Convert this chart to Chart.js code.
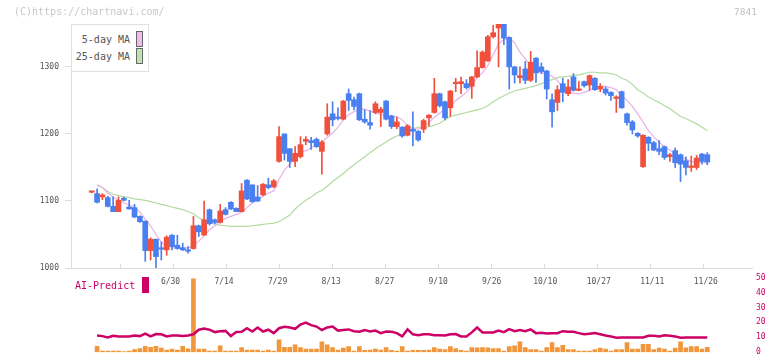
<!DOCTYPE html>
<html><head><meta charset="utf-8">
<script src="https://cdn.jsdelivr.net/npm/chart.js@4/dist/chart.umd.min.js"></script>
<style>
html,body{margin:0;padding:0;background:#fff;}
#wrap{position:relative;width:772px;height:361px;overflow:hidden;font-family:"DejaVu Sans Mono",monospace;}
canvas{position:absolute;left:0;}
#cA{top:0;}
#cB{top:268px;}
.t{position:absolute;white-space:nowrap;line-height:12px;}
</style>
</head><body>
<div id="wrap">
<canvas id="cA" width="772" height="300"></canvas>
<canvas id="cB" width="772" height="93"></canvas>
<div class="t" style="left:14px;top:6px;font-size:10px;color:#c8c8c8;">(C)https://chartnavi.com/</div>
<div class="t" style="right:15px;top:6px;font-size:9.5px;color:#c0c0c0;">7841</div>
<div style="position:absolute;left:71px;top:24px;width:78px;height:48px;box-sizing:border-box;border:1px solid #e0e0e0;background:#fff;"></div>
<div class="t" style="right:642px;top:34px;font-size:10px;color:#555;">5-day MA</div>
<div style="position:absolute;left:136px;top:31px;width:7px;height:16px;box-sizing:border-box;border:1px solid #666;background:#efbbef;"></div>
<div class="t" style="right:642px;top:51px;font-size:10px;color:#555;">25-day MA</div>
<div style="position:absolute;left:136px;top:48px;width:7px;height:16px;box-sizing:border-box;border:1px solid #666;background:#bfe2b2;"></div>
<div class="t" style="left:75px;top:280px;font-size:10px;color:#cc0066;">AI-Predict</div>
<div style="position:absolute;left:142px;top:277px;width:7px;height:16px;background:#cc0066;"></div>
</div>
<script>
const dates = ['6/9','6/10','6/11','6/12','6/13','6/16','6/17','6/18','6/19','6/20',
'6/23','6/24','6/25','6/26','6/27','6/30','7/1','7/2','7/3','7/4',
'7/7','7/8','7/9','7/10','7/11','7/14','7/15','7/16','7/17','7/18',
'7/22','7/23','7/24','7/25','7/28','7/29','7/30','7/31','8/1','8/4',
'8/5','8/6','8/7','8/8','8/12','8/13','8/14','8/15','8/18','8/19',
'8/20','8/21','8/22','8/25','8/26','8/27','8/28','8/29','9/1','9/2',
'9/3','9/4','9/5','9/8','9/9','9/10','9/11','9/12','9/16','9/17',
'9/18','9/19','9/22','9/24','9/25','9/26','9/29','9/30','10/1','10/2',
'10/3','10/6','10/7','10/8','10/9','10/10','10/14','10/15','10/16','10/17',
'10/20','10/21','10/22','10/23','10/24','10/27','10/28','10/29','10/30','10/31',
'11/4','11/5','11/6','11/7','11/10','11/11','11/12','11/13','11/14','11/17',
'11/18','11/19','11/20','11/21','11/25','11/26'];
const labelDates = ['6/30','7/14','7/29','8/13','8/27','9/10','9/26','10/10','10/27','11/11','11/26'];
const priceTicks = [1000,1100,1200,1300];
const predictTicks = [0,10,20,30,40,50];

const open = [1113,1111,1106,1105,1092,1084,1104,1091,1090,1077,
1070,1026,1043,1030,1027,1049,1034,1030,1026,1029,
1063,1049,1087,1072,1068,1087,1098,1089,1084,1131,
1124,1106,1109,1124,1121,1159,1200,1178,1159,1166,
1189,1190,1192,1174,1200,1230,1225,1222,1260,1251,
1260,1222,1217,1232,1232,1249,1227,1211,1210,1198,
1207,1204,1207,1224,1232,1260,1248,1239,1275,1275,
1275,1271,1285,1299,1309,1345,1358,1364,1344,1300,
1284,1297,1280,1313,1300,1294,1251,1247,1275,1260,
1285,1265,1278,1273,1283,1267,1267,1262,1253,1263,
1230,1218,1201,1151,1195,1187,1178,1181,1166,1175,
1169,1160,1150,1150,1170,1169];
const high = [1114,1118,1111,1107,1106,1106,1106,1101,1095,1078,
1070,1045,1043,1039,1048,1050,1049,1037,1032,1077,
1064,1100,1088,1073,1095,1090,1099,1090,1126,1132,
1124,1123,1126,1134,1132,1211,1200,1178,1181,1196,
1196,1195,1194,1190,1245,1248,1239,1250,1267,1255,
1261,1236,1235,1248,1240,1250,1228,1225,1211,1214,
1233,1205,1222,1229,1283,1261,1249,1265,1283,1285,
1281,1286,1324,1324,1347,1362,1364,1364,1345,1301,
1300,1308,1323,1314,1306,1295,1260,1272,1283,1281,
1290,1278,1279,1288,1284,1275,1270,1263,1257,1264,
1231,1220,1202,1199,1196,1189,1190,1182,1171,1179,
1170,1166,1167,1168,1171,1172];
const low = [1112,1097,1102,1091,1084,1084,1100,1088,1075,1068,
1010,1012,1000,1012,1019,1027,1028,1026,1022,1028,
1047,1049,1064,1066,1067,1079,1087,1084,1084,1102,
1098,1099,1108,1118,1120,1158,1161,1150,1151,1164,
1184,1177,1180,1140,1198,1212,1221,1221,1235,1236,
1220,1216,1207,1230,1211,1221,1208,1208,1195,1197,
1182,1189,1202,1212,1231,1240,1221,1226,1263,1260,
1267,1253,1284,1298,1308,1343,1300,1333,1267,1276,
1276,1275,1278,1277,1290,1252,1210,1235,1248,1257,
1264,1264,1270,1265,1265,1263,1258,1250,1232,1238,
1213,1200,1195,1150,1175,1175,1169,1162,1159,1150,
1129,1139,1144,1147,1155,1154];
const close = [1113,1098,1109,1092,1084,1101,1101,1088,1076,1069,
1026,1043,1017,1028,1046,1032,1029,1027,1025,1063,
1054,1072,1066,1068,1085,1080,1088,1084,1115,1103,
1099,1100,1125,1120,1130,1196,1171,1159,1171,1184,
1192,1187,1181,1188,1225,1221,1223,1249,1250,1241,
1221,1218,1213,1245,1237,1222,1211,1218,1197,1212,
1204,1191,1220,1228,1260,1242,1224,1264,1277,1278,
1269,1285,1299,1322,1345,1351,1364,1343,1300,1288,
1287,1280,1307,1291,1293,1267,1233,1266,1262,1270,
1265,1267,1272,1287,1266,1271,1261,1257,1254,1239,
1217,1206,1197,1198,1186,1176,1174,1165,1169,1157,
1155,1150,1151,1164,1159,1158];
const ma5 = [null,1124,1120,1112,1106,1101,1097,1094,1091,1083,
1073,1063,1050,1039,1032,1031,1031,1030,1030,1033,
1040,1048,1057,1063,1070,1074,1077,1080,1083,1090,
1097,1102,1107,1112,1115,1132,1146,1155,1165,1173,
1175,1179,1183,1188,1195,1201,1210,1221,1229,1233,
1237,1237,1234,1231,1229,1227,1226,1226,1221,1212,
1208,1207,1211,1217,1225,1231,1237,1241,1250,1256,
1262,1272,1284,1291,1302,1318,1334,1341,1343,1336,
1322,1312,1302,1295,1291,1290,1286,1280,1268,1263,
1261,1260,1262,1265,1270,1271,1271,1269,1266,1257,
1250,1241,1230,1218,1205,1196,1188,1181,1176,1170,
1166,1162,1159,1158,1157,1157];
const ma25 = [null,1123,1120,1114,1110,1108,1106,1105,1103,1102,
1101,1099,1097,1095,1093,1091,1089,1087,1084,1081,
1075,1071,1068,1065,1064,1063,1062,1062,1062,1062,
1063,1064,1065,1066,1067,1069,1074,1079,1088,1095,
1101,1106,1112,1116,1122,1129,1135,1141,1148,1154,
1160,1166,1172,1178,1183,1188,1193,1197,1201,1205,
1208,1210,1210,1211,1213,1216,1221,1226,1228,1230,
1232,1234,1236,1238,1242,1248,1253,1257,1261,1264,
1266,1268,1270,1272,1275,1278,1281,1284,1285,1286,
1287,1288,1290,1292,1292,1291,1291,1290,1288,1283,
1280,1274,1266,1261,1255,1251,1247,1242,1238,1232,
1226,1223,1219,1215,1210,1205];
const aiPredict = [null,11.2,10.8,9.9,11.0,10.6,10.6,10.6,11.2,10.8,
12.4,10.6,12.2,12.0,10.6,11.2,11.2,10.8,11.2,12.0,
15.1,15.9,15.1,13.5,14.1,14.3,10.8,13.5,13.7,16.1,
13.9,16.6,13.9,15.1,12.8,16.1,17.0,16.6,15.7,18.6,
19.9,18.2,17.2,14.9,16.6,17.2,14.5,14.9,15.3,14.1,
13.7,14.9,13.9,14.5,12.8,13.9,13.7,12.8,10.6,15.3,
12.0,11.4,12.0,12.0,11.4,11.4,11.2,12.0,12.2,10.6,
10.6,13.3,16.6,13.3,13.3,13.3,14.5,13.5,15.5,14.1,
14.9,14.1,15.3,12.8,13.0,12.6,12.8,12.8,14.1,13.7,
13.7,12.8,12.0,12.4,12.8,12.0,11.2,10.6,9.7,9.9,
9.9,9.9,9.9,9.9,11.0,11.0,10.6,11.4,11.0,10.6,
9.7,9.9,9.9,9.9,9.9,9.9];
const volume = [null,3.9,0.8,0.8,0.8,0.8,0.4,0.8,1.7,2.5,
3.9,3.3,3.9,2.7,1.4,2.1,1.4,3.9,2.3,49.3,
2.1,2.1,0.8,0.8,4.3,0.8,0.8,0.8,3.1,1.4,
1.4,1.4,0.8,1.4,0.8,8.3,3.3,3.3,5.0,3.1,
2.1,2.1,2.1,7.0,5.0,3.1,1.4,2.7,3.7,0.8,
3.7,1.2,1.4,2.1,1.4,3.1,1.2,0.8,3.7,0.8,
1.2,1.2,1.2,1.4,3.1,2.1,1.7,3.7,2.5,1.2,
0.8,3.1,2.9,3.1,2.9,2.5,2.5,0.8,3.7,4.3,
7.0,3.1,1.7,1.7,0.8,3.1,6.4,3.1,4.6,1.7,
1.7,0.8,0.8,0.8,1.7,2.7,2.1,0.8,1.7,1.7,
6.4,2.1,2.1,5.2,5.2,1.7,2.7,2.1,0.8,2.7,
7.0,2.9,3.7,3.7,2.1,3.3];

const UP = '#f0503c', DOWN = '#4a7ff0';
const MONO = '"DejaVu Sans Mono", monospace';
const X_MIN = -3.87, X_MAX = 123.35;

const pts = arr => arr.map((v,i)=> v==null ? null : {x:i, y:v}).filter(p=>p);
const candleColors = close.map((c,i)=> c >= open[i] ? UP : DOWN);
const bodies = close.map((c,i)=>({x:i, y:[open[i], c]}));
const wicks = close.map((c,i)=>({x:i, y:[low[i], high[i]]}));
const labelIdx = labelDates.map(d=>dates.indexOf(d));

const innerTicks = {
  id:'innerTicks',
  afterDatasetsDraw(chart){
    const s = chart.scales.xt, a = chart.chartArea, c = chart.ctx;
    if(!s) return;
    c.save(); c.strokeStyle = '#dcdcdc'; c.lineWidth = 1;
    for(let k = s.min; k <= s.max; k++){
      const x = Math.round(s.getPixelForValue(k)) + 0.5;
      c.beginPath(); c.moveTo(x, a.bottom); c.lineTo(x, a.bottom - 4); c.stroke();
    }
    c.restore();
  }
};

new Chart(document.getElementById('cA'), {
  type:'bar',
  data:{ datasets:[
    {type:'line', data:pts(ma25), borderColor:'#b2dba2', borderWidth:1.2, pointRadius:0, fill:false, order:4},
    {type:'line', data:pts(ma5), borderColor:'#e8b0e8', borderWidth:1.2, pointRadius:0, fill:false, order:3},
    {type:'bar', data:wicks, backgroundColor:candleColors, barThickness:1, grouped:false, order:2},
    {type:'bar', data:bodies, backgroundColor:candleColors, barThickness:5, minBarLength:1.5, grouped:false, order:1}
  ]},
  options:{
    responsive:false, animation:false, events:[],
    layout:{padding:{left:0, top:24, right:20, bottom:0}},
    plugins:{legend:{display:false}, tooltip:{enabled:false}},
    scales:{
      x:{type:'linear', min:X_MIN, max:X_MAX, offset:false,
        grid:{display:true, drawOnChartArea:false, drawTicks:false},
        border:{display:true, color:'#dcdcdc'},
        afterBuildTicks: s => { s.ticks = labelIdx.map(v=>({value:v})); },
        ticks:{autoSkip:false, maxRotation:0, minRotation:0, padding:9.5, labelOffset:-1.5,
          color:'#555', font:{family:MONO, size:8}, callback:v=>dates[v]},
        afterFit: s => { s.height = 32; }
      },
      xt:{type:'linear', display:false, min:0, max:11},
      y:{type:'linear', position:'left', min:1000, max:1364,
        afterBuildTicks: s => { s.ticks = priceTicks.map(v=>({value:v})); },
        ticks:{padding:6, color:'#555', font:{family:MONO, size:8}, callback:v=>String(v)},
        grid:{display:true, drawOnChartArea:false, drawTicks:true, tickLength:6, color:'#dcdcdc'},
        border:{display:true, color:'#dcdcdc'},
        afterFit: s => { s.width = 71; }
      }
    }
  },
  plugins:[innerTicks]
});

new Chart(document.getElementById('cB'), {
  type:'bar',
  data:{ datasets:[
    {type:'line', data:pts(aiPredict), borderColor:'#cc0066', borderWidth:2.5, pointRadius:0, fill:false, order:1},
    {type:'bar', data:pts(volume), backgroundColor:'#f0963c', barThickness:4, grouped:false, order:2}
  ]},
  options:{
    responsive:false, animation:false, events:[],
    layout:{padding:{left:71, top:9.7, right:0, bottom:2.7}},
    plugins:{legend:{display:false}, tooltip:{enabled:false}},
    scales:{
      x:{type:'linear', min:X_MIN, max:X_MAX, display:false, offset:false},
      y:{type:'linear', position:'right', min:0, max:50,
        afterBuildTicks: s => { s.ticks = predictTicks.map(v=>({value:v})); },
        ticks:{padding:4, color:'#cc0066', font:{family:MONO, size:8}, callback:v=>String(v)},
        grid:{display:false, drawTicks:false},
        border:{display:false},
        afterFit: s => { s.width = 20; }
      }
    }
  }
});
</script>
</body></html>
